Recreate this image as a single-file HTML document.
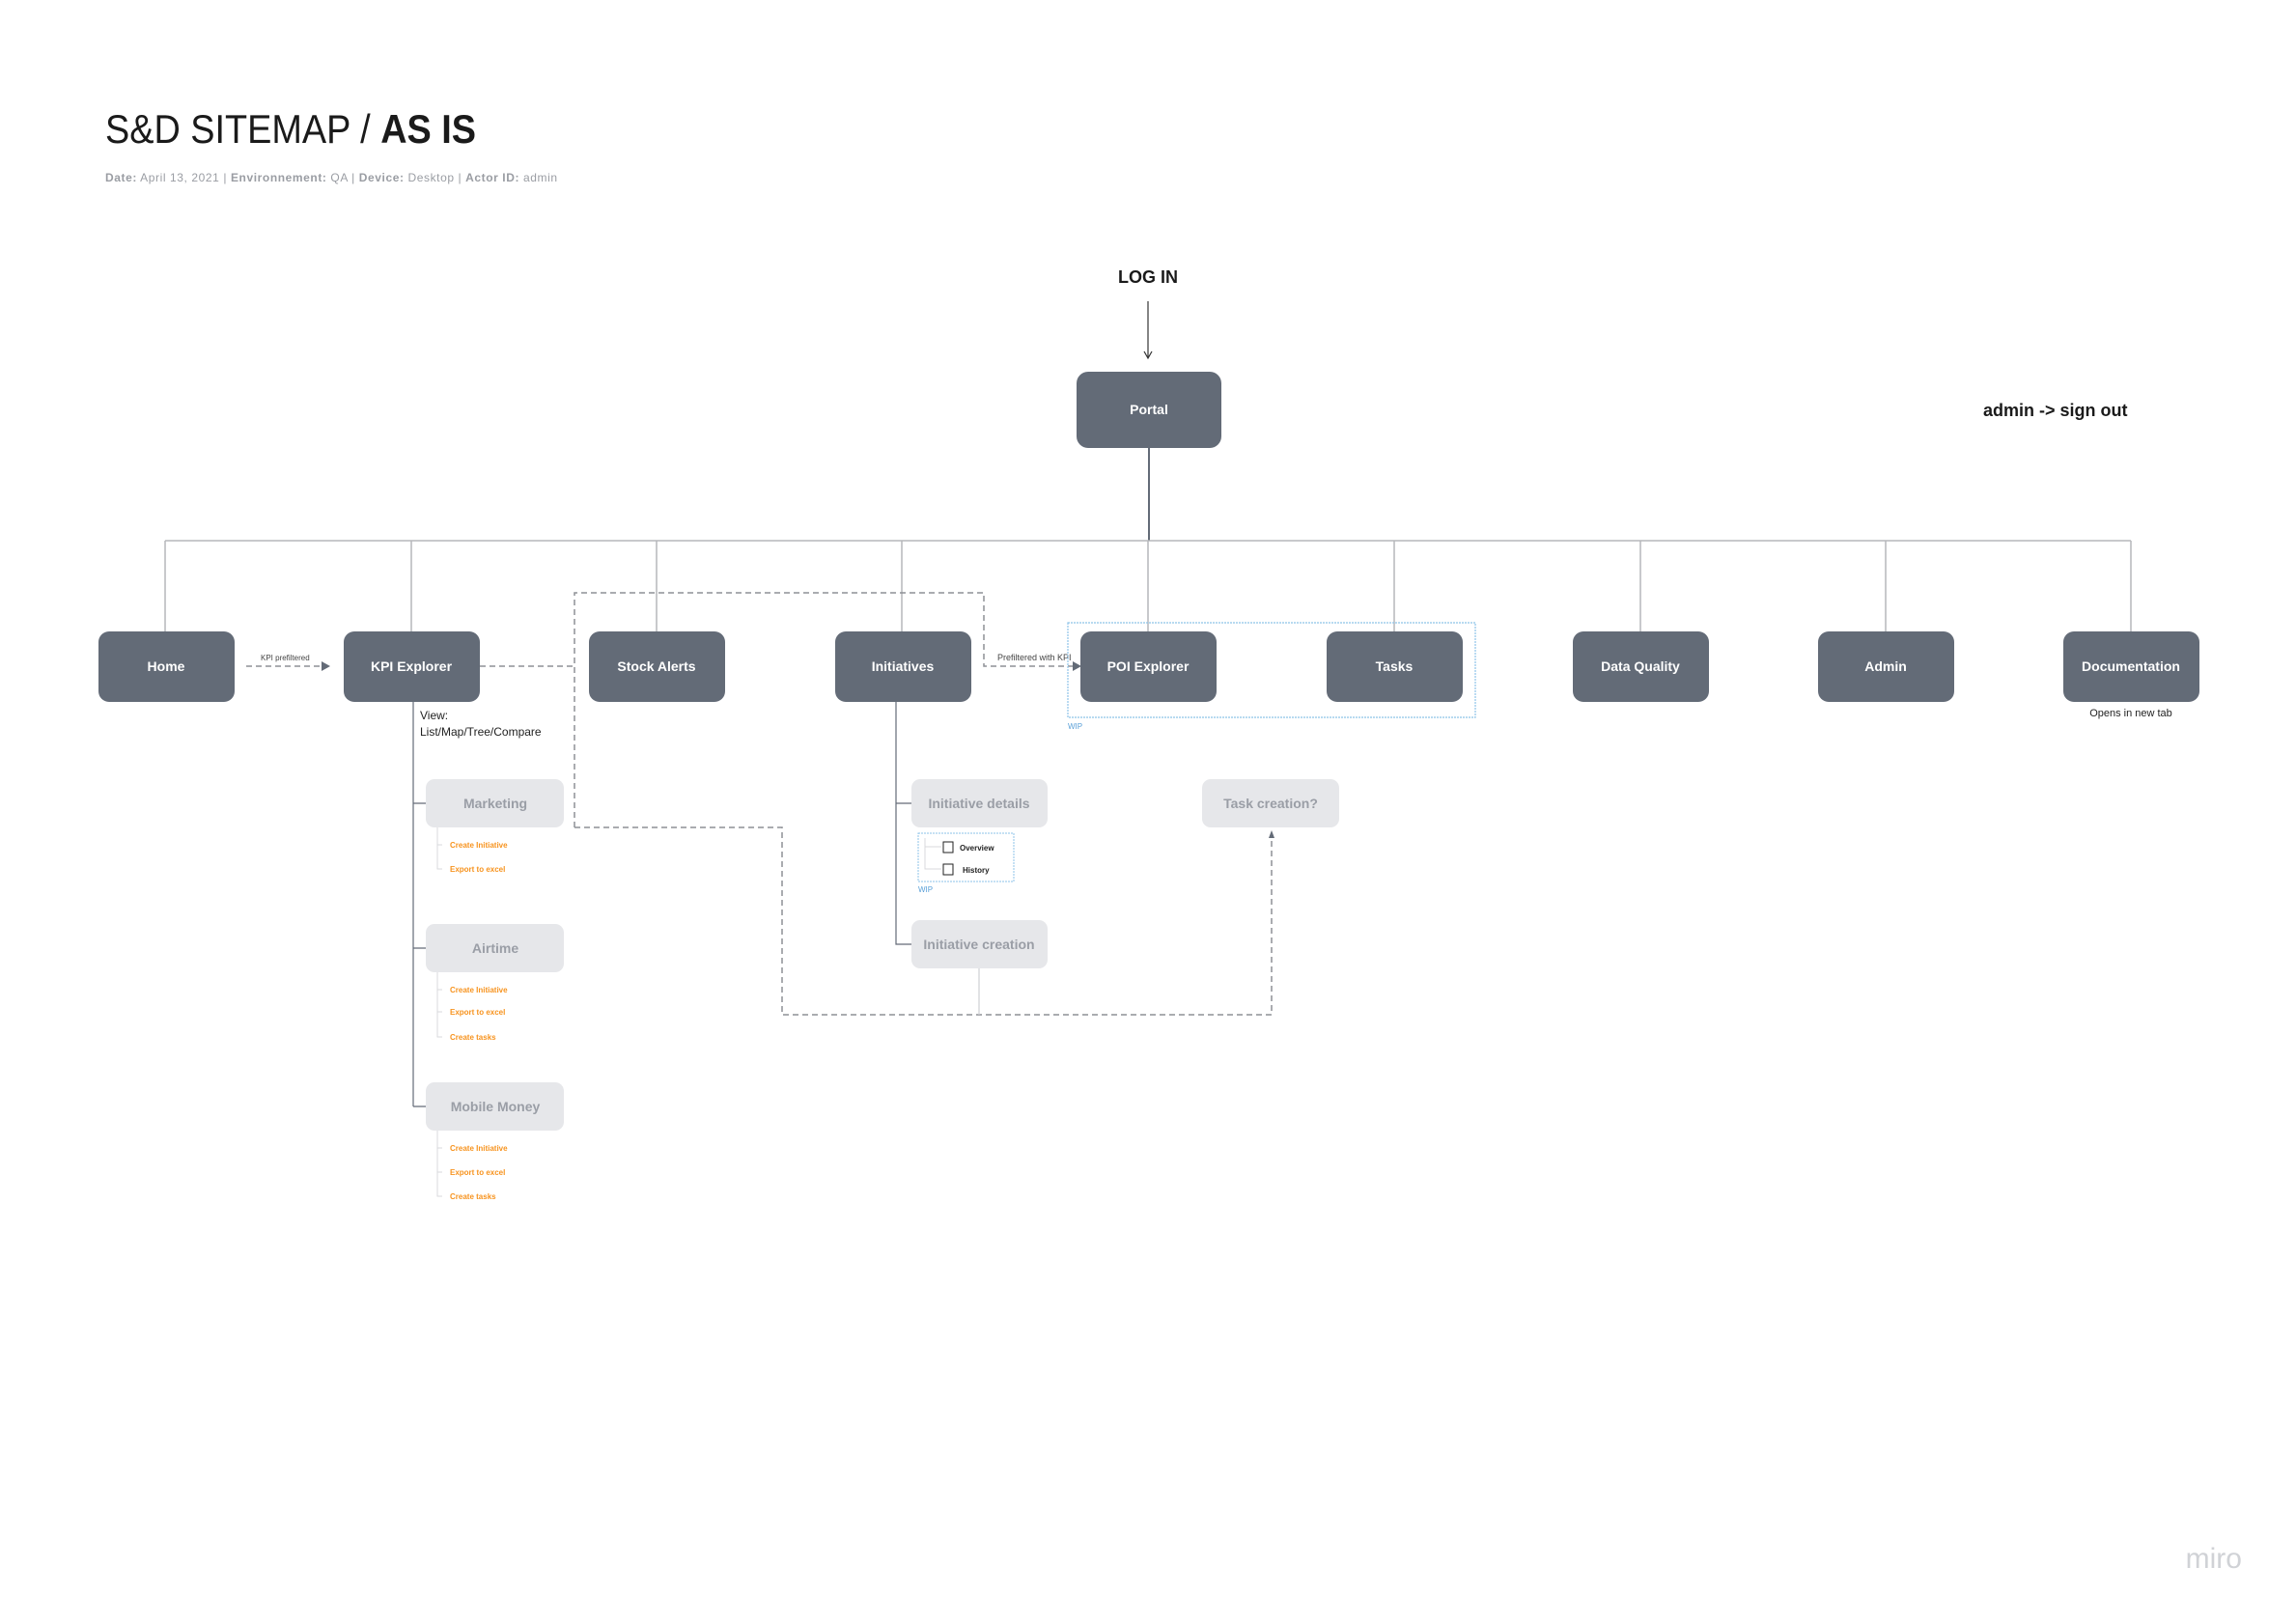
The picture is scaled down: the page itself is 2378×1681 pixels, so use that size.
<!DOCTYPE html>
<html><head><meta charset="utf-8"><style>
html,body{margin:0;padding:0;background:#fff;}
svg{display:block;font-family:"Liberation Sans",sans-serif;}
.n{fill:#636b77;}
.nt{fill:#fff;font-weight:bold;font-size:14px;text-anchor:middle;}
.s{fill:#e6e7ea;}
.st{fill:#9a9ea6;font-weight:bold;font-size:14px;text-anchor:middle;}
.o{fill:#f7931e;font-weight:bold;font-size:8px;}
.ln{stroke:#b5b7bb;stroke-width:1.5;fill:none;}
.dl{stroke:#8d9096;stroke-width:1.5;fill:none;stroke-dasharray:6,4;}
.tl{stroke:#d9dadc;stroke-width:1;fill:none;}
</style></head><body>
<svg width="2378" height="1681" viewBox="0 0 2378 1681" xmlns="http://www.w3.org/2000/svg">
<text x="109" y="148" font-size="42" fill="#1a1a1a" textLength="384" lengthAdjust="spacingAndGlyphs">S&amp;D SITEMAP / <tspan font-weight="bold">AS IS</tspan></text>
<text x="109" y="188" font-size="12" fill="#9a9da3" textLength="468" lengthAdjust="spacing"><tspan font-weight="bold">Date:</tspan> April 13, 2021  |  <tspan font-weight="bold">Environnement:</tspan> QA  |  <tspan font-weight="bold">Device:</tspan> Desktop  |  <tspan font-weight="bold">Actor ID:</tspan> admin</text>
<text x="1189" y="293" font-size="18" font-weight="bold" text-anchor="middle" fill="#1a1a1a">LOG IN</text>
<line x1="1189" y1="312" x2="1189" y2="370" stroke="#333" stroke-width="1.2"/>
<path d="M1185 364 L1189 371 L1193 364" stroke="#333" fill="none" stroke-width="1.2"/>
<text x="2054" y="431" font-size="18" font-weight="bold" fill="#1a1a1a">admin -&gt; sign out</text>
<rect class="n" x="1115" y="385" width="150" height="79" rx="12"/>
<text class="nt" x="1190" y="429">Portal</text>
<line x1="1190" y1="464" x2="1190" y2="560" stroke="#636b77" stroke-width="2"/>
<line class="ln" x1="171" y1="560" x2="2207" y2="560"/>
<g class="ln">
<line x1="171" y1="560" x2="171" y2="654"/><line x1="426" y1="560" x2="426" y2="654"/>
<line x1="680" y1="560" x2="680" y2="654"/><line x1="934" y1="560" x2="934" y2="654"/>
<line x1="1189" y1="560" x2="1189" y2="654"/><line x1="1444" y1="560" x2="1444" y2="654"/>
<line x1="1699" y1="560" x2="1699" y2="654"/><line x1="1953" y1="560" x2="1953" y2="654"/>
<line x1="2207" y1="560" x2="2207" y2="654"/>
</g>
<path class="dl" d="M255 690 L334 690"/><path d="M333 685 L342 690 L333 695Z" fill="#636b77"/>
<text x="270" y="684" font-size="8" fill="#444">KPI prefiltered</text>
<path class="dl" d="M497 690 L595 690"/>
<path class="dl" d="M595 857 L595 614 L1019 614 L1019 690 L1112 690"/><path d="M1111 685 L1120 690 L1111 695Z" fill="#636b77"/>
<text x="1033" y="684" font-size="9" fill="#444">Prefiltered with KPI</text>
<path class="dl" d="M595 857 L810 857 L810 1051 L1317 1051 L1317 864"/>
<path d="M1314 868 L1317 860 L1320 868Z" fill="#636b77"/>
<rect x="1106" y="645" width="422" height="98" fill="none" stroke="#8ec3e8" stroke-width="1.2" stroke-dasharray="2,1"/>
<text x="1106" y="755" font-size="8" fill="#5aa0d8">WIP</text>
<g>
<rect class="n" x="102" y="654" width="141" height="73" rx="11"/><text class="nt" x="172" y="695">Home</text>
<rect class="n" x="356" y="654" width="141" height="73" rx="11"/><text class="nt" x="426" y="695">KPI Explorer</text>
<rect class="n" x="610" y="654" width="141" height="73" rx="11"/><text class="nt" x="680" y="695">Stock Alerts</text>
<rect class="n" x="865" y="654" width="141" height="73" rx="11"/><text class="nt" x="935" y="695">Initiatives</text>
<rect class="n" x="1119" y="654" width="141" height="73" rx="11"/><text class="nt" x="1189" y="695">POI Explorer</text>
<rect class="n" x="1374" y="654" width="141" height="73" rx="11"/><text class="nt" x="1444" y="695">Tasks</text>
<rect class="n" x="1629" y="654" width="141" height="73" rx="11"/><text class="nt" x="1699" y="695">Data Quality</text>
<rect class="n" x="1883" y="654" width="141" height="73" rx="11"/><text class="nt" x="1953" y="695">Admin</text>
<rect class="n" x="2137" y="654" width="141" height="73" rx="11"/><text class="nt" x="2207" y="695">Documentation</text>
</g>
<text x="2207" y="742" font-size="11" text-anchor="middle" fill="#222">Opens in new tab</text>
<path d="M428 727 L428 1146 M428 832 L441 832 M428 982 L441 982 M428 1146 L441 1146" stroke="#636b77" stroke-width="1.2" fill="none"/>
<text x="435" y="745" font-size="12" fill="#222">View:</text>
<text x="435" y="762" font-size="12" fill="#222">List/Map/Tree/Compare</text>
<rect class="s" x="441" y="807" width="143" height="50" rx="9"/><text class="st" x="513" y="837">Marketing</text>
<rect class="s" x="441" y="957" width="143" height="50" rx="9"/><text class="st" x="513" y="987">Airtime</text>
<rect class="s" x="441" y="1121" width="143" height="50" rx="9"/><text class="st" x="513" y="1151">Mobile Money</text>
<path class="tl" d="M453 857 L453 900 L458 900 M453 875 L458 875 M453 1007 L453 1074 L458 1074 M453 1025 L458 1025 M453 1048 L458 1048 M453 1171 L453 1239 L458 1239 M453 1189 L458 1189 M453 1214 L458 1214"/>
<text class="o" x="466" y="878">Create Initiative</text><text class="o" x="466" y="903">Export to excel</text>
<text class="o" x="466" y="1028">Create Initiative</text><text class="o" x="466" y="1051">Export to excel</text><text class="o" x="466" y="1077">Create tasks</text>
<text class="o" x="466" y="1192">Create Initiative</text><text class="o" x="466" y="1217">Export to excel</text><text class="o" x="466" y="1242">Create tasks</text>
<path d="M928 727 L928 978 L944 978 M928 832 L944 832" stroke="#636b77" stroke-width="1.2" fill="none"/>
<rect class="s" x="944" y="807" width="141" height="50" rx="9"/><text class="st" x="1014" y="837">Initiative details</text>
<rect class="s" x="944" y="953" width="141" height="50" rx="9"/><text class="st" x="1014" y="983">Initiative creation</text>
<line x1="1014" y1="1003" x2="1014" y2="1051" stroke="#cfd0d3" stroke-width="1.2"/>
<rect x="951" y="863" width="99" height="50" fill="none" stroke="#8ec3e8" stroke-width="1" stroke-dasharray="2,1"/>
<path class="tl" d="M958 868 L958 900 L975 900 M958 877 L975 877"/>
<rect x="977" y="872" width="10" height="11" fill="none" stroke="#222" stroke-width="1"/>
<rect x="977" y="895" width="10" height="11" fill="none" stroke="#222" stroke-width="1"/>
<text x="994" y="881" font-size="8" font-weight="bold" fill="#222">Overview</text>
<text x="997" y="904" font-size="8" font-weight="bold" fill="#222">History</text>
<text x="951" y="924" font-size="8" fill="#5aa0d8">WIP</text>
<rect class="s" x="1245" y="807" width="142" height="50" rx="9"/><text class="st" x="1316" y="837">Task creation?</text>
<text x="2322" y="1624" font-size="30" fill="#d0d2d6" text-anchor="end">miro</text>
</svg>
</body></html>
